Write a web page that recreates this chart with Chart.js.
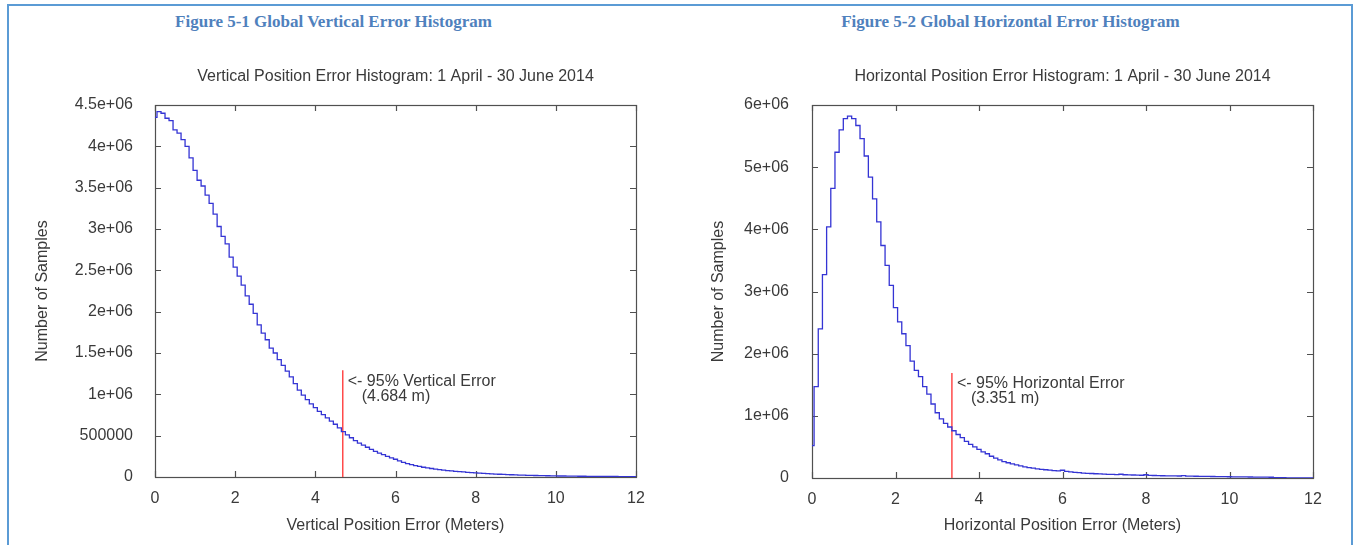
<!DOCTYPE html>
<html>
<head>
<meta charset="utf-8">
<script src="https://cdn.jsdelivr.net/npm/chart.js@4.4.0/dist/chart.umd.min.js"></script>
<style>
  html, body { margin: 0; padding: 0; background: #fff; }
  body { width: 1358px; height: 545px; position: relative; overflow: hidden; }
  .frame { position: absolute; left: 7px; top: 4px; width: 1346px; height: 600px; border: 2px solid #5b9bd5; box-sizing: border-box; }
  .fig { position: absolute; top: 12px; font: bold 17px "Liberation Serif", serif; color: #4f81bd; text-align: center; line-height: 20px; white-space: nowrap; }
  canvas { position: absolute; top: 0; }
</style>
</head>
<body>
<div class="frame"></div>
<div class="fig" style="left:0;width:667px">Figure 5-1 Global Vertical Error Histogram</div>
<div class="fig" style="left:680px;width:661px">Figure 5-2 Global Horizontal Error Histogram</div>
<canvas id="vertChart" width="680" height="545" style="left:0"></canvas>
<canvas id="horizChart" width="678" height="545" style="left:680px"></canvas>
<script>
// histogram bins are 0.1 m wide, first bin centred on 0 m, last on 12 m
const binWidth = 0.1;

// samples per bin, vertical error
const vertCounts = [
  4350000, 4420000, 4400000, 4340000, 4310000, 4200000, 4160000, 4080000, 4000000, 3860000,
  3710000, 3590000, 3520000, 3410000, 3310000, 3180000, 3030000, 2910000, 2820000, 2660000,
  2540000, 2430000, 2320000, 2190000, 2090000, 1980000, 1840000, 1740000, 1660000, 1560000,
  1500000, 1420000, 1350000, 1280000, 1210000, 1130000, 1050000, 990000, 935000, 885000,
  840000, 795000, 755000, 715000, 675000, 638000, 595000, 550000, 510000, 475000,
  440000, 410000, 385000, 360000, 335000, 310000, 290000, 270000, 250000, 232000,
  215000, 195000, 178000, 162000, 150000, 138000, 128000, 118000, 110000, 103000,
  96000, 90000, 84000, 78000, 73000, 69000, 65000, 61000, 57000, 53000,
  49000, 46000, 43000, 40000, 37000, 35000, 33000, 31000, 29000, 27000,
  25000, 23000, 22000, 20000, 19000, 18000, 17000, 16000, 15000, 14000,
  13000, 12000, 12000, 11000, 10000, 10000, 9000, 9000, 8000, 8000,
  7000, 7000, 7000, 6000, 6000, 6000, 5000, 5000, 5000, 5000,
  5000
];

// samples per bin, horizontal error
const horizCounts = [
  520000, 1470000, 2400000, 3270000, 4040000, 4660000, 5240000, 5600000, 5780000, 5820000,
  5780000, 5670000, 5460000, 5180000, 4840000, 4490000, 4120000, 3740000, 3420000, 3100000,
  2740000, 2510000, 2320000, 2130000, 1880000, 1730000, 1630000, 1470000, 1350000, 1190000,
  1050000, 950000, 880000, 820000, 760000, 700000, 650000, 590000, 540000, 500000,
  460000, 420000, 390000, 350000, 320000, 290000, 265000, 245000, 228000, 210000,
  195000, 180000, 168000, 158000, 148000, 140000, 133000, 126000, 120000, 115000,
  125000, 105000, 98000, 92000, 86000, 80000, 76000, 72000, 68000, 65000,
  62000, 59000, 57000, 55000, 60000, 52000, 50000, 48000, 46000, 44000,
  52000, 42000, 40000, 38000, 36000, 35000, 34000, 33000, 32000, 38000,
  30000, 29000, 28000, 27000, 26000, 25000, 24000, 23000, 22000, 21000,
  20000, 19000, 18000, 18000, 17000, 16000, 15000, 15000, 14000, 13000,
  12000, 5000, 4000, 4000, 3000, 3000, 3000, 3000, 2000, 2000,
  2000
];

// 95% markers: [error in metres, top of marker line]
const vert95 = [4.684, 1290000];
const horiz95 = [3.351, 1690000];

const xTickLabels = ['0', '2', '4', '6', '8', '10', '12'];
const vertYTickLabels = ['0', '500000', '1e+06', '1.5e+06', '2e+06', '2.5e+06', '3e+06', '3.5e+06', '4e+06', '4.5e+06'];
const horizYTickLabels = ['0', '1e+06', '2e+06', '3e+06', '4e+06', '5e+06', '6e+06'];

const textColor = '#3a3a3a';
const labelFont = { family: '"Liberation Sans", Arial, sans-serif', size: 16 };

// box round the plot with gnuplot style inward ticks, plus the marker label
const framePlugin = {
  id: 'frame',
  beforeDatasetsDraw(chart) {
    const { ctx, chartArea: a, scales: { x, y } } = chart;
    ctx.save();
    ctx.strokeStyle = '#505050';
    ctx.lineWidth = 1.2;
    ctx.strokeRect(a.left + 0.5, a.top + 0.5, a.right - a.left, a.bottom - a.top);
    ctx.beginPath();
    x.ticks.forEach(t => {
      const px = Math.round(x.getPixelForValue(t.value)) + 0.5;
      ctx.moveTo(px, a.bottom); ctx.lineTo(px, a.bottom - 6);
      ctx.moveTo(px, a.top); ctx.lineTo(px, a.top + 6);
    });
    y.ticks.forEach(t => {
      const py = Math.round(y.getPixelForValue(t.value)) + 0.5;
      ctx.moveTo(a.left, py); ctx.lineTo(a.left + 6, py);
      ctx.moveTo(a.right, py); ctx.lineTo(a.right - 6, py);
    });
    ctx.stroke();
    ctx.restore();
  },
  afterDatasetsDraw(chart, args, opts) {
    const { ctx, scales: { x, y } } = chart;
    const px = x.getPixelForValue(opts.at[0]);
    const py = y.getPixelForValue(opts.at[1]);
    ctx.save();
    ctx.fillStyle = textColor;
    ctx.font = '16px "Liberation Sans", Arial, sans-serif';
    ctx.textBaseline = 'middle';
    ctx.fillText(opts.lines[0], px + 5, py + 11);
    ctx.fillText(opts.lines[1], px + 19, py + 26);
    ctx.restore();
  }
};

function makeChart(id, cfg) {
  const points = cfg.counts.map((v, i) => ({ x: +(i * binWidth).toFixed(1), y: v }));
  return new Chart(document.getElementById(id), {
    type: 'line',
    data: {
      datasets: [{
        data: points,
        stepped: 'middle',
        borderColor: '#3434d4',
        borderWidth: 1.3,
        pointRadius: 0,
        fill: false
      }, {
        data: [{ x: cfg.marker[0], y: 0 }, { x: cfg.marker[0], y: cfg.marker[1] }],
        borderColor: '#ff4a4a',
        borderWidth: 1.5,
        pointRadius: 0
      }]
    },
    options: {
      responsive: false,
      animation: false,
      layout: { padding: { left: 0, right: cfg.padRight, top: 0, bottom: 0 } },
      plugins: {
        legend: { display: false },
        tooltip: { enabled: false },
        title: {
          display: true,
          text: cfg.title,
          fullSize: false,
          color: textColor,
          font: { family: labelFont.family, size: 16, weight: 'normal' },
          padding: { top: 67.4, bottom: 18.4 }
        },
        frame: { at: cfg.marker, lines: cfg.markerText }
      },
      scales: {
        x: {
          type: 'linear',
          min: 0, max: 12,
          grid: { display: false },
          border: { display: false },
          ticks: {
            stepSize: 2,
            color: textColor,
            font: labelFont,
            padding: 4,
            maxRotation: 0,
            callback: (v, i) => xTickLabels[i]
          },
          title: {
            display: true,
            text: cfg.xTitle,
            color: textColor,
            font: labelFont,
            padding: { top: 0, bottom: 10 }
          },
          afterFit: s => { s.height = cfg.xAxisHeight; }
        },
        y: {
          min: 0, max: cfg.yMax,
          grid: { display: false },
          border: { display: false },
          ticks: {
            stepSize: cfg.yStep,
            color: textColor,
            font: labelFont,
            padding: cfg.yTickPad,
            callback: (v, i) => cfg.yLabels[i]
          },
          title: {
            display: true,
            text: 'Number of Samples',
            color: textColor,
            font: labelFont,
            padding: { top: cfg.yTitlePad, bottom: 0 }
          },
          afterFit: s => { s.width = cfg.yAxisWidth; }
        }
      }
    },
    plugins: [framePlugin]
  });
}

makeChart('vertChart', {
  counts: vertCounts,
  marker: vert95,
  markerText: ['<- 95% Vertical Error', '(4.684 m)'],
  title: 'Vertical Position Error Histogram: 1 April - 30 June 2014',
  xTitle: 'Vertical Position Error (Meters)',
  yMax: 4500000, yStep: 500000, yLabels: vertYTickLabels,
  padRight: 44, yAxisWidth: 155, xAxisHeight: 68, yTickPad: 14, yTitlePad: 33.4
});

makeChart('horizChart', {
  counts: horizCounts,
  marker: horiz95,
  markerText: ['<- 95% Horizontal Error', '(3.351 m)'],
  title: 'Horizontal Position Error Histogram: 1 April - 30 June 2014',
  xTitle: 'Horizontal Position Error (Meters)',
  yMax: 6000000, yStep: 1000000, yLabels: horizYTickLabels,
  padRight: 45, yAxisWidth: 132, xAxisHeight: 67, yTickPad: 15, yTitlePad: 29.4
});
</script>
</body>
</html>
